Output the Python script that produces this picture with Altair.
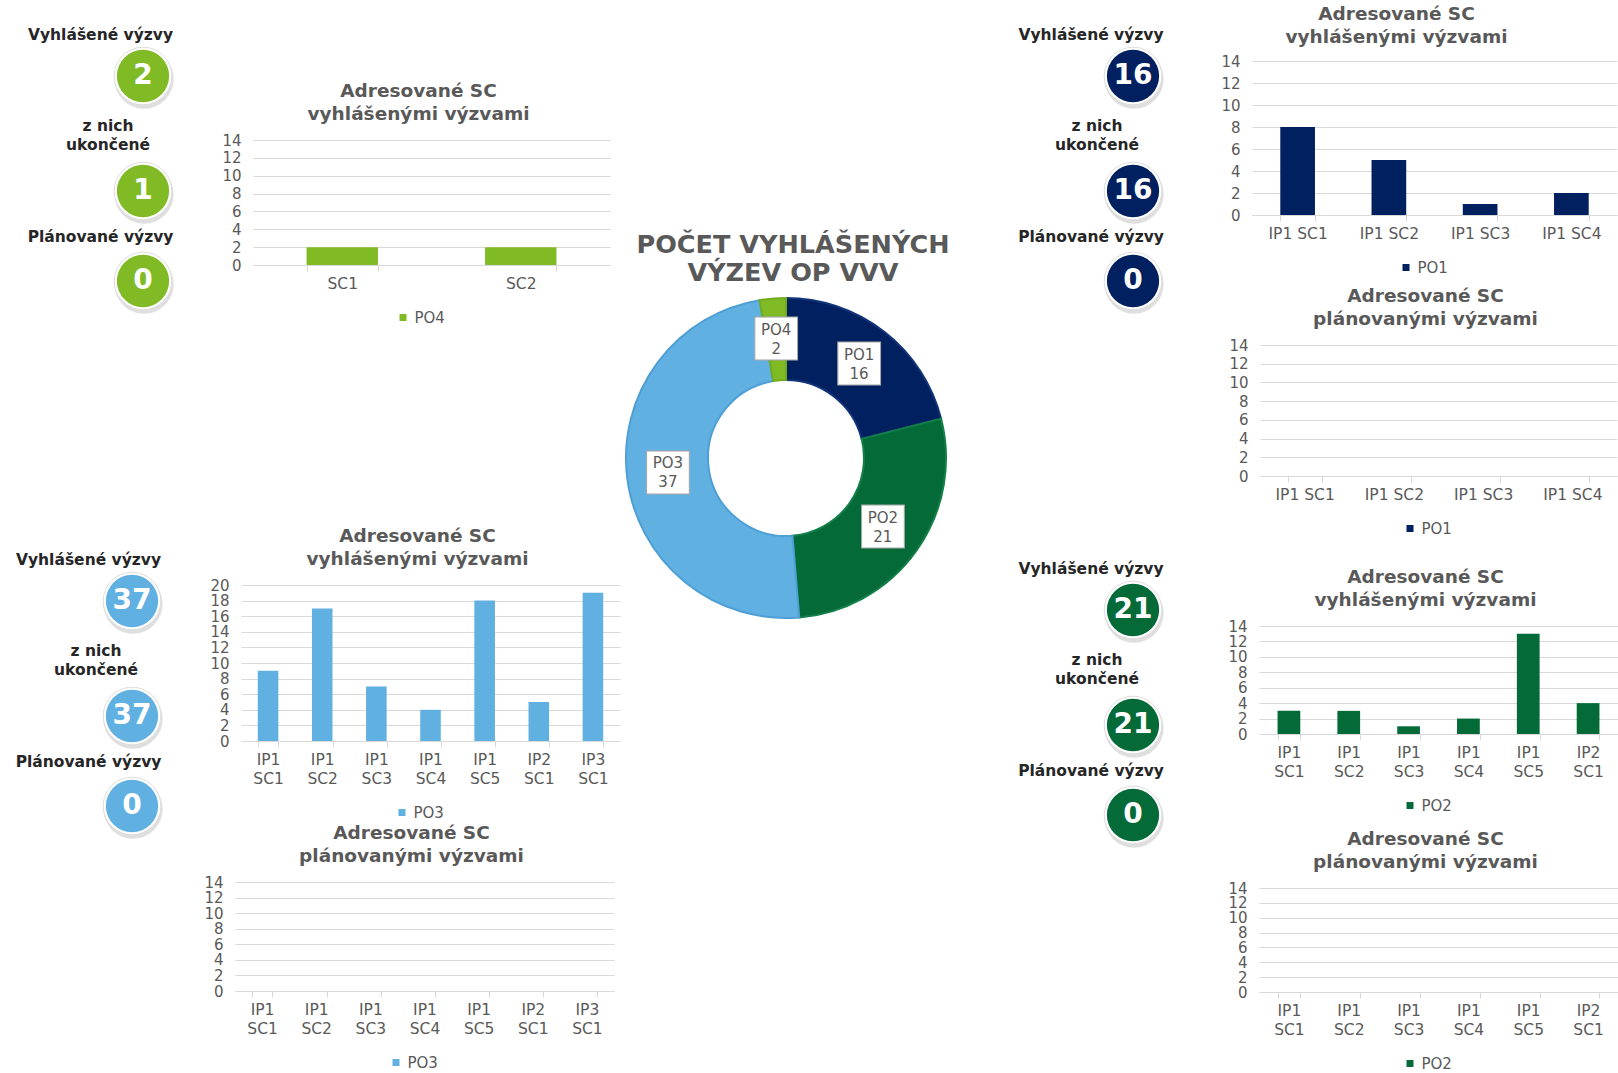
import math
import altair as alt
import pandas as pd

FONT = "DejaVu Sans"
GRAY = "#595959"
GRID = "#d9d9d9"
DARK = "#262626"

# ---------------- data ----------------
PO = ["PO1", "PO2", "PO3", "PO4"]
PO_CALLS = [16, 21, 37, 2]
PO_COLORS = ["#002060", "#046a38", "#60b0e2", "#80bb26"]
PO_RIMS = ["#12347a", "#13804a", "#4e9fd6", "#72ab1e"]

KPI_LABELS = ["Vyhlášené výzvy", "z nich\nukončené", "Plánované výzvy"]
KPI_PO1 = [16, 16, 0]
KPI_PO2 = [21, 21, 0]
KPI_PO3 = [37, 37, 0]
KPI_PO4 = [2, 1, 0]

SC_PO4 = ["SC1", "SC2"]
VAL_PO4 = [2, 2]

SC_PO1 = ["IP1 SC1", "IP1 SC2", "IP1 SC3", "IP1 SC4"]
VAL_PO1 = [8, 5, 1, 2]
PLAN_PO1 = [0, 0, 0, 0]

SC_PO2 = ["IP1 SC1", "IP1 SC2", "IP1 SC3", "IP1 SC4", "IP1 SC5", "IP2 SC1"]
VAL_PO2 = [3, 3, 1, 2, 13, 4]
PLAN_PO2 = [0, 0, 0, 0, 0, 0]

SC_PO3 = ["IP1 SC1", "IP1 SC2", "IP1 SC3", "IP1 SC4", "IP1 SC5", "IP2 SC1", "IP3 SC1"]
VAL_PO3 = [9, 17, 7, 4, 18, 5, 19]
PLAN_PO3 = [0, 0, 0, 0, 0, 0, 0]

TICKS_14 = [0, 2, 4, 6, 8, 10, 12, 14]
TICKS_20 = [0, 2, 4, 6, 8, 10, 12, 14, 16, 18, 20]

TITLE_CALLED = ["Adresované SC", "vyhlášenými výzvami"]
TITLE_PLANNED = ["Adresované SC", "plánovanými výzvami"]
DONUT_TITLE = ["POČET VYHLÁŠENÝCH", "VÝZEV OP VVV"]


# ---------------- helpers ----------------
def spacer(w, h):
    return (
        alt.Chart(pd.DataFrame({"s": [0]}))
        .mark_point(size=0, opacity=0)
        .encode(x=alt.value(1), y=alt.value(1))
        .properties(width=w, height=h)
    )


def kpi_item(label, value, color, w, h, cdx, ldx, ldy):
    df = pd.DataFrame({"label": [label], "value": [value]})
    base = alt.Chart(df).encode(
        x=alt.X("label:N", axis=None), y=alt.Y("label:N", axis=None)
    )
    shadow = base.mark_circle(
        size=math.pi * 33.5 ** 2, color="#8c8c8c", opacity=0.28, xOffset=cdx + 1, yOffset=3
    )
    ring = base.mark_circle(
        size=math.pi * 32.5 ** 2, color="#ffffff", opacity=1, xOffset=cdx,
        stroke="#dedede", strokeWidth=1,
    )
    disk = base.mark_circle(size=math.pi * 29.5 ** 2, color=color, opacity=1, xOffset=cdx)
    num = base.mark_text(
        fontSize=28, fontWeight="bold", color="#ffffff", xOffset=cdx, baseline="middle"
    ).encode(text="value:Q")
    lab = base.mark_text(
        fontSize=15.5, fontWeight="bold", color=DARK, xOffset=ldx, yOffset=ldy,
        lineBreak="\n", lineHeight=18.5, baseline="middle",
    ).encode(text="label:N")
    return alt.layer(shadow, ring, disk, num, lab).properties(width=w, height=h)


def kpi_group(values, color, w, cdx, ldxs):
    heights = [140, 90, 90]
    ldys = [-41, -65, -44.5]
    return [
        kpi_item(KPI_LABELS[i], values[i], color, w, heights[i], cdx, ldxs[i], ldys[i])
        for i in range(3)
    ]


def bar_chart(cats, vals, series, color, title, w, h, ymax, yticks, wrap,
              tdx=-13, toff=10, pin=0.62):
    df = pd.DataFrame({"sc": cats, "n": vals, "po": [series] * len(cats)})
    xkw = dict(
        title=None, labelAngle=0, labelColor=GRAY, labelFontSize=15.5,
        domainColor=GRID, domainWidth=1, tickColor=GRID, tickSize=6,
        tickBand="extent", labelPadding=5, labelBaseline="top", labelLineHeight=19,
        grid=False,
    )
    if wrap:
        xkw["labelExpr"] = "split(datum.label, ' ')"
    x = alt.X(
        "sc:N", sort=cats, axis=alt.Axis(**xkw),
        scale=alt.Scale(paddingInner=pin, paddingOuter=pin / 2),
    )
    y = alt.Y(
        "n:Q",
        scale=alt.Scale(domain=[0, ymax], nice=False),
        axis=alt.Axis(
            title=None, values=yticks, domain=False, ticks=False, grid=True,
            gridColor=GRID, gridWidth=1, labelColor=GRAY, labelFontSize=15,
            labelPadding=12, labelOverlap=False,
        ),
    )
    c = alt.Color(
        "po:N",
        scale=alt.Scale(domain=[series], range=[color]),
        legend=alt.Legend(
            title=None, orient="none", legendX=w / 2 - 36,
            legendY=h + (64 if wrap else 45), direction="horizontal",
            symbolType="square", symbolSize=49, symbolStrokeWidth=0,
            labelFontSize=15, labelColor=GRAY, labelOffset=4,
        ),
    )
    return (
        alt.Chart(df)
        .mark_bar()
        .encode(x=x, y=y, color=c)
        .properties(
            width=w, height=h,
            title=alt.TitleParams(
                text=title, fontSize=18.5, fontWeight="bold", color=GRAY,
                lineHeight=23, offset=toff, dx=tdx, anchor="middle",
            ),
        )
    )


def indep(c):
    return c.resolve_scale(color="independent", stroke="independent")


def row(dx, chart):
    # nested group: takes no room in the flush column layout
    return indep(alt.hconcat(spacer(dx, 1), chart, spacing=0, bounds="flush"))


def column(*charts):
    return indep(alt.vconcat(*charts, spacing=0, bounds="flush"))


# ---------------- column 1: KPI PO4 + PO3 ----------------
C1_W = 235
col1 = column(
    spacer(1, 6),
    *kpi_group(KPI_PO4, PO_COLORS[3], C1_W, 25.5, [-17, -9.5, -17]),
    spacer(1, 205),
    *kpi_group(KPI_PO3, PO_COLORS[2], C1_W, 14.5, [-29, -21.5, -29]),
)

# ---------------- column 2: PO4 and PO3 bars ----------------
C2_W = 385
col2 = column(
    spacer(1, 140),
    row(18, bar_chart(SC_PO4, VAL_PO4, "PO4", PO_COLORS[3], TITLE_CALLED, 357, 125, 14, TICKS_14, False, pin=0.6)),
    spacer(1, 445),
    row(6, bar_chart(SC_PO3, VAL_PO3, "PO3", PO_COLORS[2], TITLE_CALLED, 379, 156, 20, TICKS_20, True)),
    spacer(1, 297),
    bar_chart(SC_PO3, PLAN_PO3, "PO3", PO_COLORS[2], TITLE_PLANNED, 379, 109, 14, TICKS_14, True),
)

# ---------------- column 3: donut ----------------
C3_W = 332
donut_df = pd.DataFrame({"po": PO, "n": PO_CALLS})
donut_df["lbl"] = donut_df["po"] + "\n" + donut_df["n"].astype(str)
dbase = alt.Chart(donut_df).encode(theta=alt.Theta("n:Q", stack=True))
arcs = dbase.mark_arc(innerRadius=78, outerRadius=160, strokeWidth=2).encode(
    color=alt.Color("po:N", scale=alt.Scale(domain=PO, range=PO_COLORS), legend=None),
    stroke=alt.Stroke("po:N", scale=alt.Scale(domain=PO, range=PO_RIMS), legend=None),
)
boxes = dbase.mark_text(
    radius=119, text="■", fontSize=56, fill="#ffffff", stroke="#a6a6a6",
    strokeWidth=1, baseline="middle", dy=-3,
)
dlabels = dbase.mark_text(
    radius=119, fontSize=15, lineHeight=19, color=GRAY, lineBreak="\n",
    baseline="middle", dy=-9.5,
).encode(text="lbl:N")
donut = alt.layer(arcs, boxes, dlabels).properties(
    width=C3_W, height=C3_W,
    title=alt.TitleParams(
        text=DONUT_TITLE, fontSize=25.5, fontWeight="bold", color=GRAY,
        lineHeight=28, offset=6, dx=7, anchor="middle",
    ),
)
col3 = column(spacer(1, 292), donut)

# ---------------- column 4: KPI PO1 + PO2 ----------------
C4_W = 300
col4 = column(
    spacer(1, 6),
    *kpi_group(KPI_PO1, PO_COLORS[0], C4_W, 31, [-11, -5, -11]),
    spacer(1, 214),
    *kpi_group(KPI_PO2, PO_COLORS[1], C4_W, 31, [-11, -5, -11]),
)

# ---------------- column 5: PO1 and PO2 bars ----------------
col5 = column(
    spacer(1, 61),
    bar_chart(SC_PO1, VAL_PO1, "PO1", PO_COLORS[0], TITLE_CALLED, 365, 154, 14, TICKS_14, False, tdx=-38, toff=8),
    spacer(1, 130),
    row(8, bar_chart(SC_PO1, PLAN_PO1, "PO1", PO_COLORS[0], TITLE_PLANNED, 357, 131, 14, TICKS_14, False)),
    spacer(1, 281),
    row(7, bar_chart(SC_PO2, VAL_PO2, "PO2", PO_COLORS[1], TITLE_CALLED, 359, 108, 14, TICKS_14, True)),
    spacer(1, 262),
    row(7, bar_chart(SC_PO2, PLAN_PO2, "PO2", PO_COLORS[1], TITLE_PLANNED, 359, 104, 14, TICKS_14, True)),
)

# nested columns take no width in a flush layout, so spacers advance x
chart = (
    indep(
        alt.hconcat(
            col1, spacer(C1_W, 1),
            col2, spacer(C2_W, 1),
            col3, spacer(C3_W, 1),
            col4, spacer(C4_W, 1),
            col5,
            spacing=0, bounds="flush",
        )
    )
    .properties(padding=0, background="#ffffff")
    .configure(font=FONT)
    .configure_view(strokeWidth=0)
)

chart.save("out.html", embed_options={"renderer": "svg", "actions": False})
